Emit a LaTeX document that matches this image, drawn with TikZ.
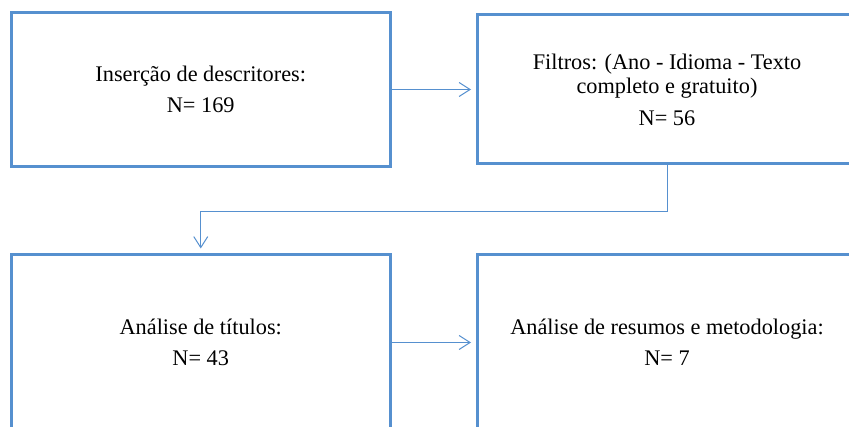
\documentclass[tikz,border=0pt]{standalone}
\usepackage{fontspec}
\setmainfont{Liberation Serif}
\usetikzlibrary{arrows.meta}
\definecolor{boxblue}{RGB}{86,144,207}
\tikzset{etapa/.style={draw=boxblue, line width=3pt, rectangle, align=center,
  minimum width=379pt, font=\fontsize{22.3}{24}\selectfont},
  fluxo/.style={->, draw=boxblue, line width=1pt, shorten >=5pt}}

\begin{document}
\begin{tikzpicture}[x=1pt, y=1pt, >={Straight Barb[length=11pt,width=14pt]}]
      \useasboundingbox (0,0) rectangle (849,426);
      \clip (0,0) rectangle (849,426);

      \node [etapa, minimum height=154pt] (ins) at (200.75, 336.5) {Inserção de descritores:\\[7pt] N= 169};
      \node [etapa, minimum height=149pt] (fil) at (667, 336.5) {Filtros: (Ano - Idioma - Texto\\ completo e gratuito)\\[8pt] N= 56};
      \node [etapa, minimum height=175pt] (tit) at (200.75, 83.5) {Análise de títulos:\\[7pt] N= 43};
      \node [etapa, minimum height=175pt] (res) at (667, 83.5) {Análise de resumos e metodologia:\\[7pt] N= 7};

      \draw [fluxo] (ins.east) -- (fil.west);
      \draw [fluxo] (fil.south) -- ++(0, -46) -| (tit.north);
      \draw [fluxo] (tit.east) -- (res.west);
    \end{tikzpicture}
\end{document}
